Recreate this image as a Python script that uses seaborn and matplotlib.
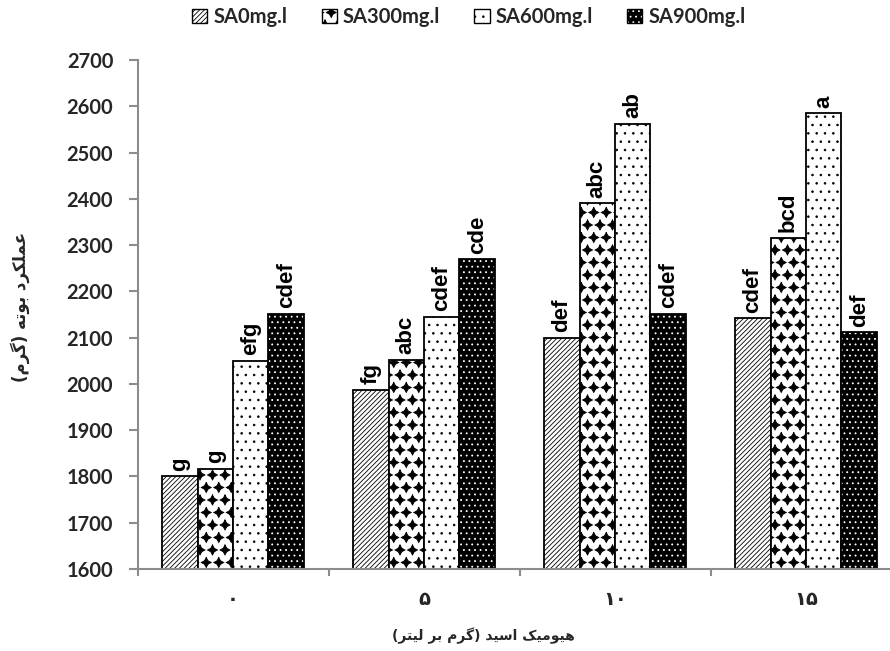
import numpy as np
import pandas as pd
import matplotlib
matplotlib.use("Agg")
import matplotlib.pyplot as plt
import matplotlib.hatch as mhatch
from matplotlib.path import Path
from matplotlib.patches import Patch
import seaborn as sns

# ---------------- data ----------------
doses = ["0", "5", "10", "15"]
dose_labels = ["۰", "۵", "۱۰", "۱۵"]
series = ["SA0mg.l", "SA300mg.l", "SA600mg.l", "SA900mg.l"]
sa0 = [1800, 1987, 2100, 2142]
sa300 = [1816, 2052, 2390, 2316]
sa600 = [2050, 2145, 2562, 2585]
sa900 = [2151, 2269, 2152, 2112]
let_sa0 = ["g", "fg", "def", "cdef"]
let_sa300 = ["g", "abc", "abc", "bcd"]
let_sa600 = ["efg", "cdef", "ab", "a"]
let_sa900 = ["cdef", "cde", "cdef", "def"]
y_ticks = list(range(1600, 2701, 100))
ylabel_txt = "عملکرد بوته (گرم)"
xlabel_txt = "هیومیک اسید (گرم بر لیتر)"

values = [sa0, sa300, sa600, sa900]
letters = [let_sa0, let_sa300, let_sa600, let_sa900]
df = pd.DataFrame({
    "dose": np.repeat([doses], 4, axis=0).ravel(),
    "sa": np.repeat(series, 4),
    "y": np.concatenate(values),
})

# ---------------- custom 4-point star hatch ----------------
class FourStars(mhatch.Shapes):
    size = 0.40
    filled = True

    def __init__(self, hatch, density):
        self.num_rows = hatch.count('*') * 8
        path = Path.unit_regular_star(4, 0.5)
        self.shape_vertices = path.vertices
        self.shape_codes = np.full(len(self.shape_vertices), Path.LINETO,
                                   dtype=Path.code_type)
        self.shape_codes[0] = Path.MOVETO
        super().__init__(hatch, density)

mhatch._hatch_types = [FourStars if t is mhatch.Stars else t
                       for t in mhatch._hatch_types]

# ---------------- simple Persian shaping ----------------
DUAL = {
    'ب': (0xFE8F, 0xFE90, 0xFE91, 0xFE92), 'ت': (0xFE95, 0xFE96, 0xFE97, 0xFE98),
    'س': (0xFEB1, 0xFEB2, 0xFEB3, 0xFEB4), 'ع': (0xFEC9, 0xFECA, 0xFECB, 0xFECC),
    'ل': (0xFEDD, 0xFEDE, 0xFEDF, 0xFEE0), 'م': (0xFEE1, 0xFEE2, 0xFEE3, 0xFEE4),
    'ه': (0xFEE9, 0xFEEA, 0xFEEB, 0xFEEC), 'ی': (0xFBFC, 0xFBFD, 0xFBFE, 0xFBFF),
    'ک': (0xFB8E, 0xFB8F, 0xFB90, 0xFB91), 'گ': (0xFB92, 0xFB93, 0xFB94, 0xFB95),
}
RIGHT = {'ا': (0xFE8D, 0xFE8E), 'د': (0xFEA9, 0xFEAA), 'ر': (0xFEAD, 0xFEAE),
         'و': (0xFEED, 0xFEEE)}


def shape(s):
    out = []
    for i, c in enumerate(s):
        if c in DUAL or c in RIGHT:
            prev = s[i - 1] if i > 0 else ''
            nxt = s[i + 1] if i + 1 < len(s) else ''
            jp = prev in DUAL
            jn = c in DUAL and (nxt in DUAL or nxt in RIGHT)
            if c in DUAL:
                f = DUAL[c]
                code = f[3] if (jp and jn) else f[1] if jp else f[2] if jn else f[0]
            else:
                f = RIGHT[c]
                code = f[1] if jp else f[0]
            out.append(chr(code))
        else:
            out.append(c)
    vis = ''.join(reversed(out))
    return vis.translate(str.maketrans('()', ')('))

# ---------------- style ----------------
sns.set_theme(style="white")
plt.rcParams['font.family'] = ['Lato', 'DejaVu Sans']
plt.rcParams['hatch.linewidth'] = 0.6

W, H = 890, 651
fig = plt.figure(figsize=(W / 100, H / 100), dpi=100)
ax = fig.add_axes([137.5 / W, 1 - 569 / H, 764 / W, 509 / H])

sns.barplot(data=df, x="dose", y="y", hue="sa", order=doses, hue_order=series,
            palette=["white"] * 4, saturation=1, width=0.743, gap=0,
            edgecolor="black", linewidth=1.2, legend=False, errorbar=None, ax=ax)

styles = [
    dict(face="white", hatch="///////", hcol="black"),
    dict(face="white", hatch="*", hcol="black"),
    dict(face="white", hatch="..", hcol="black"),
    dict(face="black", hatch="...", hcol="white"),
]


def style_patch(p, st):
    p.set_facecolor(st["face"])
    p.set_edgecolor("black")
    p.set_linewidth(1.3)
    p.set_hatch(st["hatch"])
    if hasattr(p, "set_hatchcolor"):
        p.set_hatchcolor(st["hcol"])
    else:
        p._hatch_color = matplotlib.colors.to_rgba(st["hcol"])


for ci, cont in enumerate(ax.containers):
    for bi, bar in enumerate(cont):
        style_patch(bar, styles[ci])
        xc = bar.get_x() + bar.get_width() / 2
        ax.annotate(letters[ci][bi], xy=(xc, bar.get_height()), xytext=(0, 4),
                    textcoords="offset points", rotation=90, ha="center",
                    va="bottom", fontsize=16, fontweight="bold",
                    family=["Liberation Sans", "DejaVu Sans"], color="black")

ax.set_ylim(1600, 2700)
ax.set_xlim(-0.5, 3.5)
ax.set_yticks(y_ticks)
ax.set_yticklabels([str(t) for t in y_ticks], fontsize=14.5, fontweight="bold")
ax.set_xticks(range(4))
ax.set_xticklabels(dose_labels, fontsize=14, fontweight="bold",
                   family=["DejaVu Sans"])
ax.set_xticks([-0.5, 0.5, 1.5, 2.5, 3.5], minor=True)
ax.tick_params(axis="x", which="major", length=0, pad=15)
ax.tick_params(axis="x", which="minor", length=5, width=1.5, color="#8c8c8c",
               direction="out", bottom=True)
ax.tick_params(axis="y", which="major", length=6.5, width=1.5, color="#8c8c8c",
               direction="out", left=True, pad=11)
ax.set_xlabel("")
ax.set_ylabel("")
for side in ["top", "right"]:
    ax.spines[side].set_visible(False)
for side in ["left", "bottom"]:
    ax.spines[side].set_color("#8c8c8c")
    ax.spines[side].set_linewidth(1.5)
ax.grid(False)

fig.text(20 / W, 1 - 307 / H, shape(ylabel_txt), rotation=90, ha="center",
         va="center", fontsize=12, fontweight="bold", family=["DejaVu Sans"])
fig.text(483 / W, 1 - 636 / H, shape(xlabel_txt), ha="center", va="center",
         fontsize=10, fontweight="bold", family=["DejaVu Sans"])

handles = []
for st, name in zip(styles, series):
    p = Patch(label=name)
    style_patch(p, st)
    p.set_linewidth(1.0)
    handles.append(p)
fig.legend(handles=handles, loc="center", bbox_to_anchor=(469 / W, 1 - 17 / H),
           ncol=4, frameon=False, handlelength=0.75, handleheight=0.75,
           handletextpad=0.3, columnspacing=1.7,
           prop=dict(family="Lato", weight="bold", size=14.5))

fig.savefig("out.png", dpi=100)
